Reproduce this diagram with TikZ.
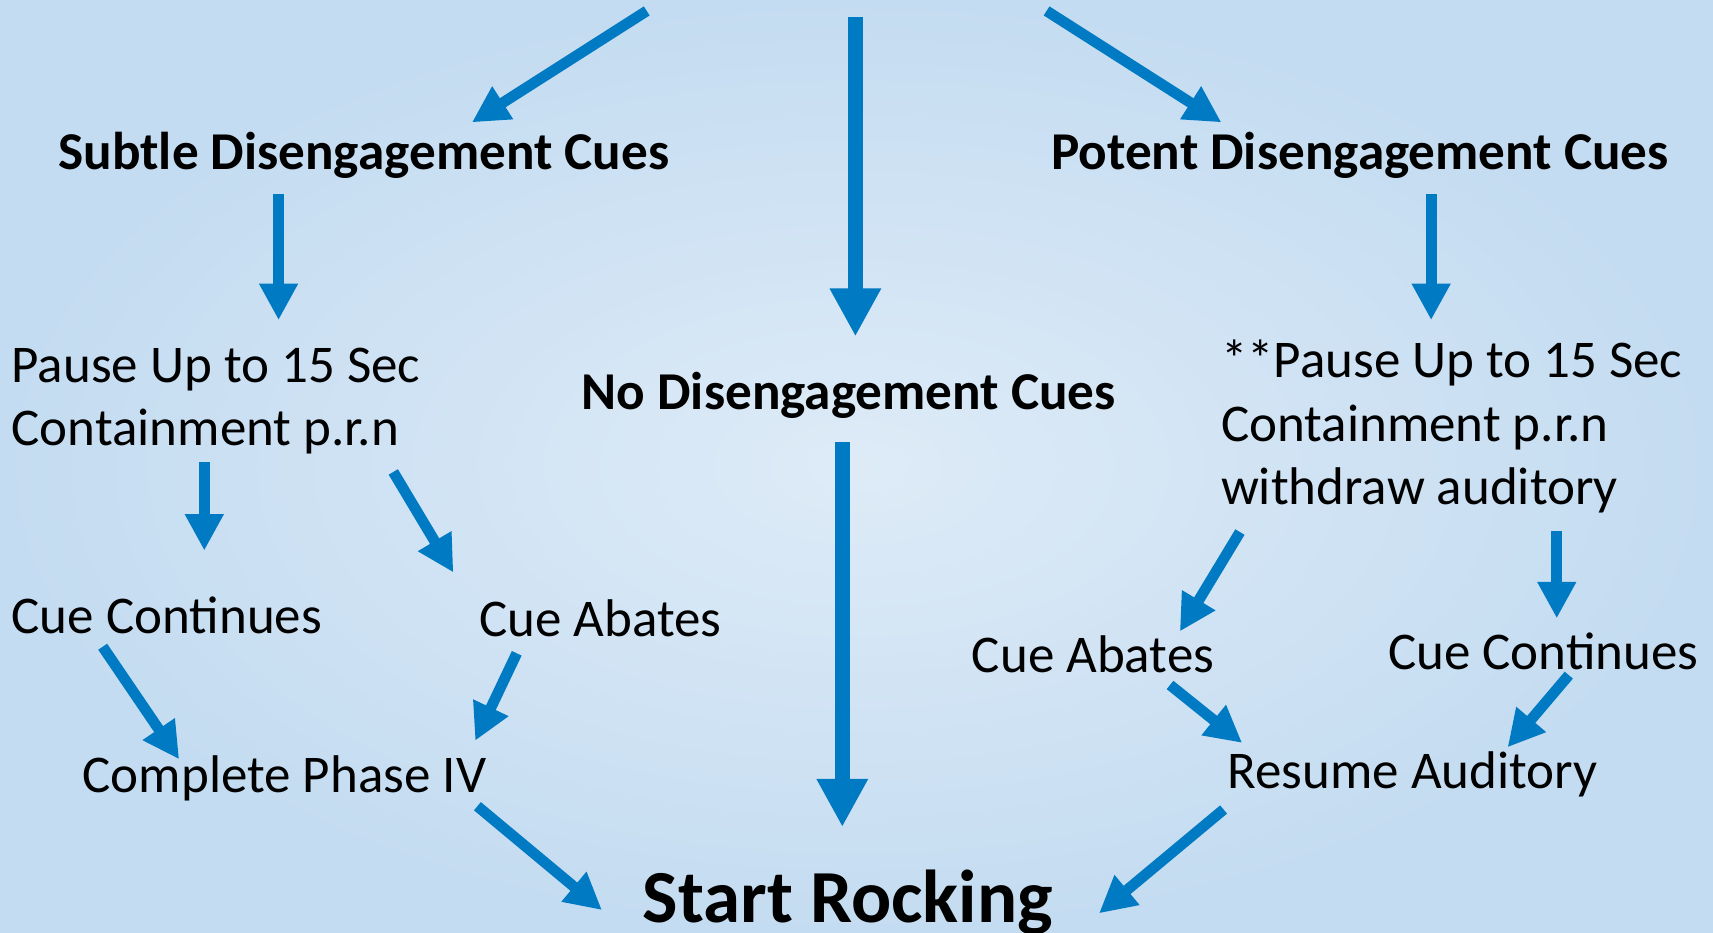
\documentclass[tikz,border=0pt]{standalone}
\usepackage{fontspec}
\setmainfont{Carlito}
\usetikzlibrary{arrows.meta}
\definecolor{cueblue}{RGB}{0,122,194}
\definecolor{bgin}{RGB}{222,235,247}
\definecolor{bgout}{RGB}{196,220,241}
\tikzset{t/.style={inner sep=0pt,font=\fontsize{13.8}{16.5}\selectfont}}
\tikzset{h/.style={inner sep=0pt,font=\fontsize{13.85}{16.5}\selectfont\bfseries}}
\tikzset{arr/.style={cueblue,line width=2.8pt,-{Triangle[length=9.5pt,width=9.5pt]}}}
\tikzset{bigarr/.style={cueblue,line width=4pt,-{Triangle[length=12.5pt,width=12.5pt]}}}

\begin{document}
\begin{tikzpicture}[x=0.01cm,y=-0.01cm]
  \shade[inner color=bgin,outer color=bgout] (0,0) rectangle (1568,854);
  \useasboundingbox (0,0) rectangle (1568,854);
  % headings
  \node[h,anchor=base] (subtle) at (333,155) {Subtle Disengagement Cues};
  \node[h,anchor=base] (potent) at (1245,155) {Potent Disengagement Cues};
  \node[h,anchor=base] (none) at (777,375) {No Disengagement Cues};
  % left branch
  \node[t,anchor=base west,align=left] (pausel) at (10,408) {Pause Up to 15 Sec\\Containment p.r.n};
  \node[t,anchor=base west] (contl) at (10,580) {Cue Continues};
  \node[t,anchor=base west] (abatel) at (438,583) {Cue Abates};
  \node[t,anchor=base west] (phase) at (75,725) {Complete Phase IV};
  % right branch
  \node[t,anchor=base west,align=left] (pauser) at (1117,462) {**Pause Up to 15 Sec\\Containment p.r.n\\withdraw auditory};
  \node[t,anchor=base west] (abater) at (889,616) {Cue Abates};
  \node[t,anchor=base west] (contr) at (1270,613) {Cue Continues};
  \node[t,anchor=base west] (resume) at (1123,722) {Resume Auditory};
  % goal
  \node[h,anchor=base,font=\fontsize{19.5}{22}\selectfont\bfseries] (start) at (776,844) {Start Rocking};
  % arrows from above
  \coordinate (topl) at (592,10);
  \coordinate (topm) at (783,16);
  \coordinate (topr) at (958,10);
  \draw[arr] (topl) -- ([shift={(99,-43)}]subtle.base);
  \draw[bigarr] (topm) -- ([shift={(6,-67)}]none.base);
  \draw[arr] (topr) -- ([shift={(-127,-43)}]potent.base);
  \draw[arr] ([shift={(-78,23)}]subtle.base) -- ([shift={(245,-115)}]pausel.base west);
  \draw[arr] ([shift={(65,23)}]potent.base) -- ([shift={(193,-169)}]pauser.base west);
  \draw[bigarr] ([shift={(-6,30)}]none.base) -- ([shift={(-5,-87)}]start.base);
  \draw[arr] ([shift={(177,15)}]pausel.base west) -- ([shift={(177,-76)}]contl.base west);
  \draw[arr] ([shift={(350,24)}]pausel.base west) -- ([shift={(-23,-59)}]abatel.base west);
  \draw[arr] ([shift={(18,25)}]pauser.base west) -- ([shift={(191,-38)}]abater.base west);
  \draw[arr] ([shift={(308,24)}]pauser.base west) -- ([shift={(155,-47)}]contr.base west);
  \draw[arr] ([shift={(84,12)}]contl.base west) -- ([shift={(89,-30)}]phase.base west);
  \draw[arr] ([shift={(35,15)}]abatel.base west) -- ([shift={(360,-47)}]phase.base west);
  \draw[arr] ([shift={(182,11)}]abater.base west) -- ([shift={(14,-42)}]resume.base west);
  \draw[arr] ([shift={(166,5)}]contr.base west) -- ([shift={(257,-38)}]resume.base west);
  \draw[arr] ([shift={(362,13)}]phase.base west) -- ([shift={(-225,-11)}]start.base);
  \draw[arr] ([shift={(-3,19)}]resume.base west) -- ([shift={(230,-8)}]start.base);
\end{tikzpicture}
\end{document}
